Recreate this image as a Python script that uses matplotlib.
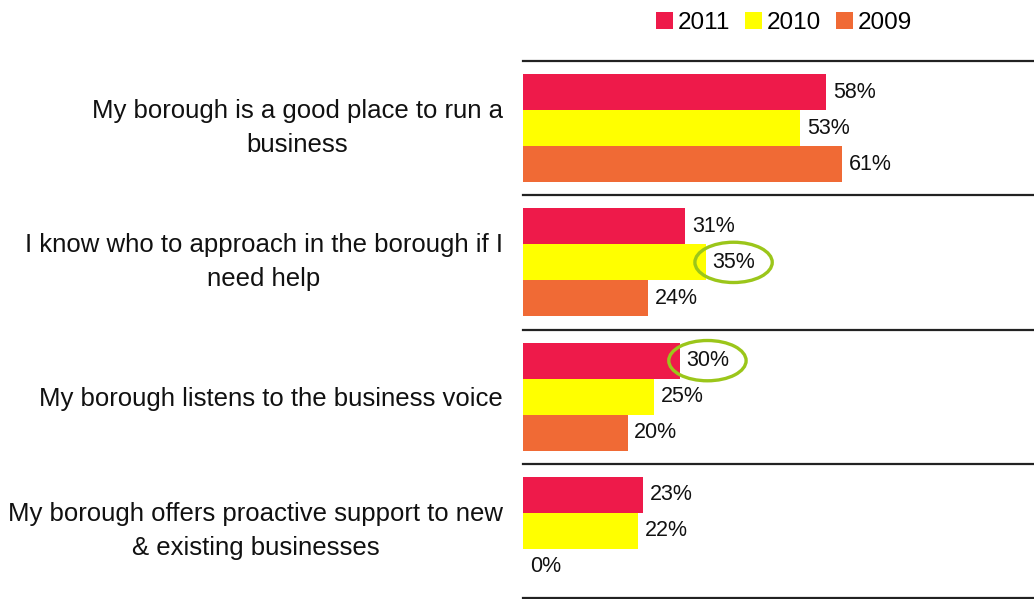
import matplotlib.pyplot as plt
import numpy as np
from matplotlib.patches import Ellipse

plt.rcParams['font.family'] = ['Liberation Sans', 'DejaVu Sans']

statements = [
    "My borough is a good place to run a\nbusiness",
    "I know who to approach in the borough if I\nneed help",
    "My borough listens to the business voice",
    "My borough offers proactive support to new\n& existing businesses",
]
years = ["2011", "2010", "2009"]
vals_2011 = [58, 31, 30, 23]
vals_2010 = [53, 35, 25, 22]
vals_2009 = [61, 24, 20, 0]
colors = ["#EE1A4A", "#FFFF00", "#F06A35"]

# highlighted labels: (series index, statement index)
highlights = [(1, 1), (0, 2)]

fig = plt.figure(figsize=(10.34, 5.99), dpi=100)
ax = fig.add_axes([523 / 1034, 1 - 598 / 599, 511 / 1034, (598 - 61) / 599])

series = [vals_2011, vals_2010, vals_2009]
y = np.arange(len(statements))
h = 0.268
for i, (vals, col, yr) in enumerate(zip(series, colors, years)):
    pos = y + (i - 1) * h
    ax.barh(pos, vals, height=h, color=col, label=yr)
    for p, v in zip(pos, vals):
        ax.text(v + 1.3, p, f"{v}%", va="center", ha="left", fontsize=15.5,
                color="#111111")

for si, ci in highlights:
    v = series[si][ci]
    ax.add_patch(Ellipse((v + 5.3, ci + (si - 1) * h), 14.8, 0.3,
                         fill=False, edgecolor="#9BC61A", lw=2.4, clip_on=False))

ax.set_xlim(0, 511 / 5.225)
ax.set_ylim(3.5, -0.5)
for b in np.arange(-0.5, 4, 1):
    ax.axhline(b, color="#222222", lw=1.6, clip_on=False)
for s in ax.spines.values():
    s.set_visible(False)
ax.set_xticks([])
ax.set_yticks(y)
ax.set_yticklabels(statements, fontsize=18.5, linespacing=1.52, color="#111111")
ax.tick_params(axis="y", length=0, pad=14.5)
for lbl in ax.get_yticklabels():
    lbl.set_horizontalalignment("right")
    lbl.set_multialignment("center")
    if "\n" in lbl.get_text():
        lbl.set_verticalalignment("center")

fig.legend(loc="center", bbox_to_anchor=(784 / 1034, 1 - 23 / 599), ncol=3,
           frameon=False, fontsize=17.5, handlelength=0.7, handleheight=0.7,
           handletextpad=0.2, columnspacing=0.6)

fig.savefig("out.png", dpi=100)
